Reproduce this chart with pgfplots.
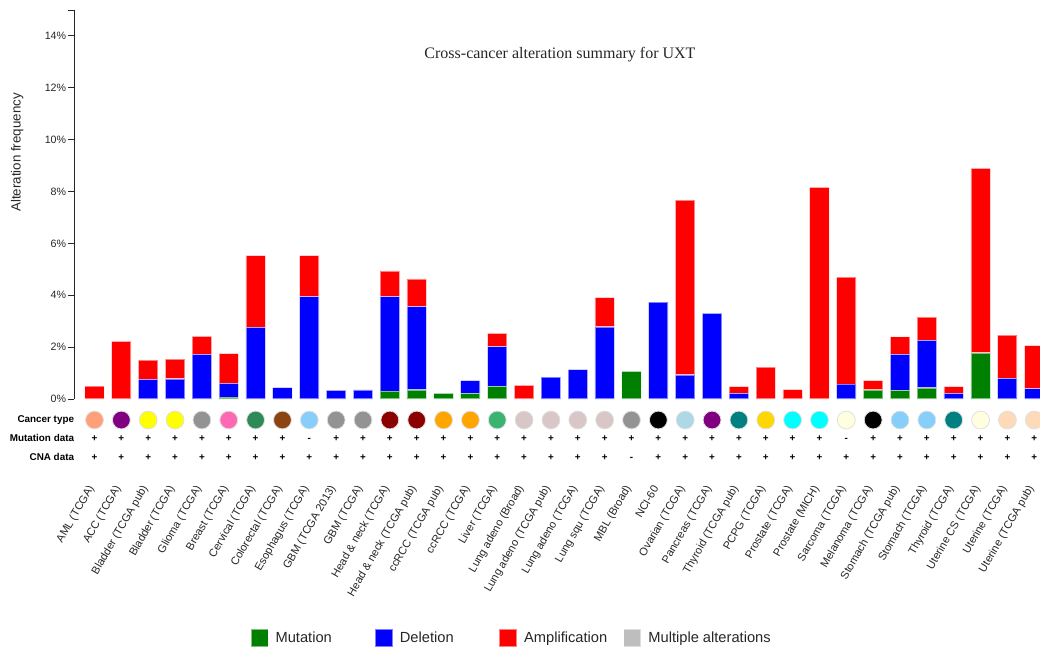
\documentclass[border=0pt]{standalone}
\usepackage{pgfplots}
\pgfplotsset{compat=1.18}
\usepackage{pgfplotstable}
\usepackage{fontspec}
\setmainfont{Liberation Sans}
\newfontfamily\titlefont{Liberation Serif}

\definecolor{cMut}{HTML}{008000}
\definecolor{cDel}{HTML}{0000FF}
\definecolor{cAmp}{HTML}{FF0000}
\definecolor{cMul}{HTML}{BEBEBE}

\definecolor{kSalmon}{HTML}{FFA07A}
\definecolor{kPurple}{HTML}{800080}
\definecolor{kYellow}{HTML}{FFFF00}
\definecolor{kGray}{HTML}{939393}
\definecolor{kPink}{HTML}{FF69B4}
\definecolor{kSeagreen}{HTML}{2E8B57}
\definecolor{kBrown}{HTML}{8B4513}
\definecolor{kSky}{HTML}{87CEFA}
\definecolor{kDarkred}{HTML}{8B0000}
\definecolor{kOrange}{HTML}{FFA500}
\definecolor{kMedgreen}{HTML}{3CB371}
\definecolor{kLung}{HTML}{D9C7C7}
\definecolor{kBlack}{HTML}{000000}
\definecolor{kLightblue}{HTML}{ADD8E6}
\definecolor{kTeal}{HTML}{008080}
\definecolor{kGold}{HTML}{FFD700}
\definecolor{kCyan}{HTML}{00FFFF}
\definecolor{kLightyellow}{HTML}{FFFFE0}
\definecolor{kPeach}{HTML}{FFDAB9}

\pgfplotstableread{
x mut del amp
0 0 0 0.50
1 0 0 2.22
2 0 0.76 0.74
3 0 0.77 0.77
4 0 1.72 0.70
5 0.07 0.53 1.15
6 0 2.76 2.77
7 0 0.44 0
8 0 3.95 1.58
9 0 0.33 0
10 0 0.35 0
11 0.30 3.65 0.99
12 0.35 3.21 1.07
13 0.22 0 0
14 0.22 0.49 0
15 0.49 1.53 0.51
16 0 0 0.53
17 0 0.84 0
18 0 1.13 0
19 0 2.78 1.13
20 1.07 0 0
21 0 3.74 0
22 0 0.93 6.74
23 0 3.30 0
24 0 0.22 0.26
25 0 0 1.23
26 0 0 0.36
27 0 0 8.16
28 0 0.57 4.13
29 0.35 0 0.36
30 0.33 1.39 0.68
31 0.42 1.84 0.90
32 0 0.22 0.26
33 1.77 0 7.12
34 0 0.80 1.66
35 0 0.40 1.66
}\bardata

\pgfplotstableread{
x y c
0 -0.81 salmon
1 -0.81 purple
2 -0.81 yellow
3 -0.81 yellow
4 -0.81 gray
5 -0.81 pink
6 -0.81 seagreen
7 -0.81 brown
8 -0.81 sky
9 -0.81 gray
10 -0.81 gray
11 -0.81 darkred
12 -0.81 darkred
13 -0.81 orange
14 -0.81 orange
15 -0.81 medgreen
16 -0.81 lung
17 -0.81 lung
18 -0.81 lung
19 -0.81 lung
20 -0.81 gray
21 -0.81 black
22 -0.81 lightblue
23 -0.81 purple
24 -0.81 teal
25 -0.81 gold
26 -0.81 cyan
27 -0.81 cyan
28 -0.81 lightyellow
29 -0.81 black
30 -0.81 sky
31 -0.81 sky
32 -0.81 teal
33 -0.81 lightyellow
34 -0.81 peach
35 -0.81 peach
}\circdata

\pgfplotsset{
  common/.style={
    x=20.1375pt, y=19.4475pt,
    xmin=-0.7635, xmax=35.214, ymin=0, ymax=15,
  },
  sq/.style={legend image code/.code={\draw[##1] (0pt,-6.5pt) rectangle (13pt,6.5pt);}},
}

\begin{document}
\begin{tikzpicture}
\begin{axis}[
  common,
  axis lines*=left,
  x axis line style={draw=none},
  y axis line style={black!85, line width=0.75pt},
  ybar stacked, bar width=14.6pt,
  xtick={0,...,35},
  xticklabels={AML (TCGA), ACC (TCGA), Bladder (TCGA pub), Bladder (TCGA), Glioma (TCGA), Breast (TCGA), Cervical (TCGA), Colorectal (TCGA), Esophagus (TCGA), GBM (TCGA 2013), GBM (TCGA), Head \& neck (TCGA), Head \& neck (TCGA pub), ccRCC (TCGA pub), ccRCC (TCGA), Liver (TCGA), Lung adeno (Broad), Lung adeno (TCGA pub), Lung adeno (TCGA), Lung squ (TCGA), MBL (Broad), NCI-60, Ovarian (TCGA), Pancreas (TCGA), Thyroid (TCGA pub), PCPG (TCGA), Prostate (TCGA), Prostate (MICH), Sarcoma (TCGA), Melanoma (TCGA), Stomach (TCGA pub), Stomach (TCGA), Thyroid (TCGA), Uterine CS (TCGA), Uterine (TCGA), Uterine (TCGA pub)},
  major x tick style={draw=none},
  x tick style={draw=none},
  xticklabel style={font=\fontsize{8.3}{10}\selectfont, text=black!85, xshift=-2pt, yshift=-61pt, rotate=60, anchor=east, inner sep=0pt},
  ytick={0,2,...,14},
  yticklabel={\pgfmathprintnumber{\tick}\%},
  extra y ticks={15}, extra y tick labels={},
  tick align=outside, major tick length=4.5pt,
  y tick style={black!85, line width=0.75pt},
  yticklabel style={font=\fontsize{8}{9}\selectfont, text=black!85, inner sep=1.2pt},
  /pgf/number format/assume math mode=true,
  legend columns=4,
  legend cell align=left,
  legend style={at={(0.18219,-0.6145)}, anchor=west, draw=none, fill=none, inner sep=0pt,
    font=\fontsize{11}{13}\selectfont, text=black!85,
    nodes={inner sep=0pt},
    /tikz/every odd column/.append style={column sep=5pt}},
]
\addplot[fill=cMut, draw=white, draw opacity=0.5, line width=1pt, sq] table[x=x,y=mut]{\bardata};
\addlegendentry{\makebox[74.2pt][l]{Mutation}}
\addplot[fill=cDel, draw=white, draw opacity=0.5, line width=1pt, sq] table[x=x,y=del]{\bardata};
\addlegendentry{\makebox[74.2pt][l]{Deletion}}
\addplot[fill=cAmp, draw=white, draw opacity=0.5, line width=1pt, sq] table[x=x,y=amp]{\bardata};
\addlegendentry{\makebox[74.2pt][l]{Amplification}}
\addlegendimage{fill=cMul, draw=white, draw opacity=0.5, line width=1pt, sq}
\addlegendentry{\makebox[74.2pt][l]{Multiple alterations}}
\end{axis}

\begin{axis}[common, hide axis, clip=false]
\addplot[scatter, only marks, mark=*, mark size=6.7pt, line width=0.6pt,
  scatter src=explicit symbolic,
  scatter/classes={
    salmon={draw=black!12, fill=kSalmon},
    purple={draw=black!12, fill=kPurple},
    yellow={draw=black!12, fill=kYellow},
    gray={draw=black!12, fill=kGray},
    pink={draw=black!12, fill=kPink},
    seagreen={draw=black!12, fill=kSeagreen},
    brown={draw=black!12, fill=kBrown},
    sky={draw=black!12, fill=kSky},
    darkred={draw=black!12, fill=kDarkred},
    orange={draw=black!12, fill=kOrange},
    medgreen={draw=black!12, fill=kMedgreen},
    lung={draw=black!12, fill=kLung},
    black={draw=black!12, fill=kBlack},
    lightblue={draw=black!12, fill=kLightblue},
    teal={draw=black!12, fill=kTeal},
    gold={draw=black!12, fill=kGold},
    cyan={draw=black!12, fill=kCyan},
    lightyellow={draw=black!12, fill=kLightyellow},
    peach={draw=black!12, fill=kPeach}}
] table[x=x, y=y, meta=c]{\circdata};

\pgfplotsinvokeforeach{0,...,7,9,10,...,27,29,30,...,35}{
  \node[anchor=base, inner sep=0pt, font=\bfseries\fontsize{7.4}{8}\selectfont] at (axis cs:#1,-1.647) {+};
}
\pgfplotsinvokeforeach{8,28}{
  \node[anchor=base, inner sep=0pt, font=\bfseries\fontsize{7.4}{8}\selectfont] at (axis cs:#1,-1.647) {-};
}
\pgfplotsinvokeforeach{0,...,19,21,22,...,35}{
  \node[anchor=base, inner sep=0pt, font=\bfseries\fontsize{7.4}{8}\selectfont] at (axis cs:#1,-2.379) {+};
}
\node[anchor=base, inner sep=0pt, font=\bfseries\fontsize{7.4}{8}\selectfont] at (axis cs:20,-2.379) {-};

\node[anchor=base east, inner sep=0pt, font=\bfseries\fontsize{7.4}{8}\selectfont] at (axis cs:-0.752,-0.899) {Cancer type};
\node[anchor=base east, inner sep=0pt, font=\bfseries\fontsize{7.4}{8}\selectfont] at (axis cs:-0.752,-1.647) {Mutation data};
\node[anchor=base east, inner sep=0pt, font=\bfseries\fontsize{7.4}{8}\selectfont] at (axis cs:-0.752,-2.379) {CNA data};

\node[anchor=base, inner sep=0pt, font=\titlefont\fontsize{12}{14}\selectfont, text=black!85] at (axis cs:17.337,13.13) {Cross-cancer alteration summary for UXT};
\node[anchor=base, rotate=90, inner sep=0pt, font=\fontsize{10}{12}\selectfont, text=black!85] at (axis cs:-2.756,9.506) {Alteration frequency};

\coordinate (BL) at (axis cs:-3.5196,-9.757);
\coordinate (TR) at (axis cs:35.214,15.388);
\end{axis}
\pgfresetboundingbox
\path[use as bounding box] (BL) rectangle (TR);
\end{tikzpicture}
\end{document}
